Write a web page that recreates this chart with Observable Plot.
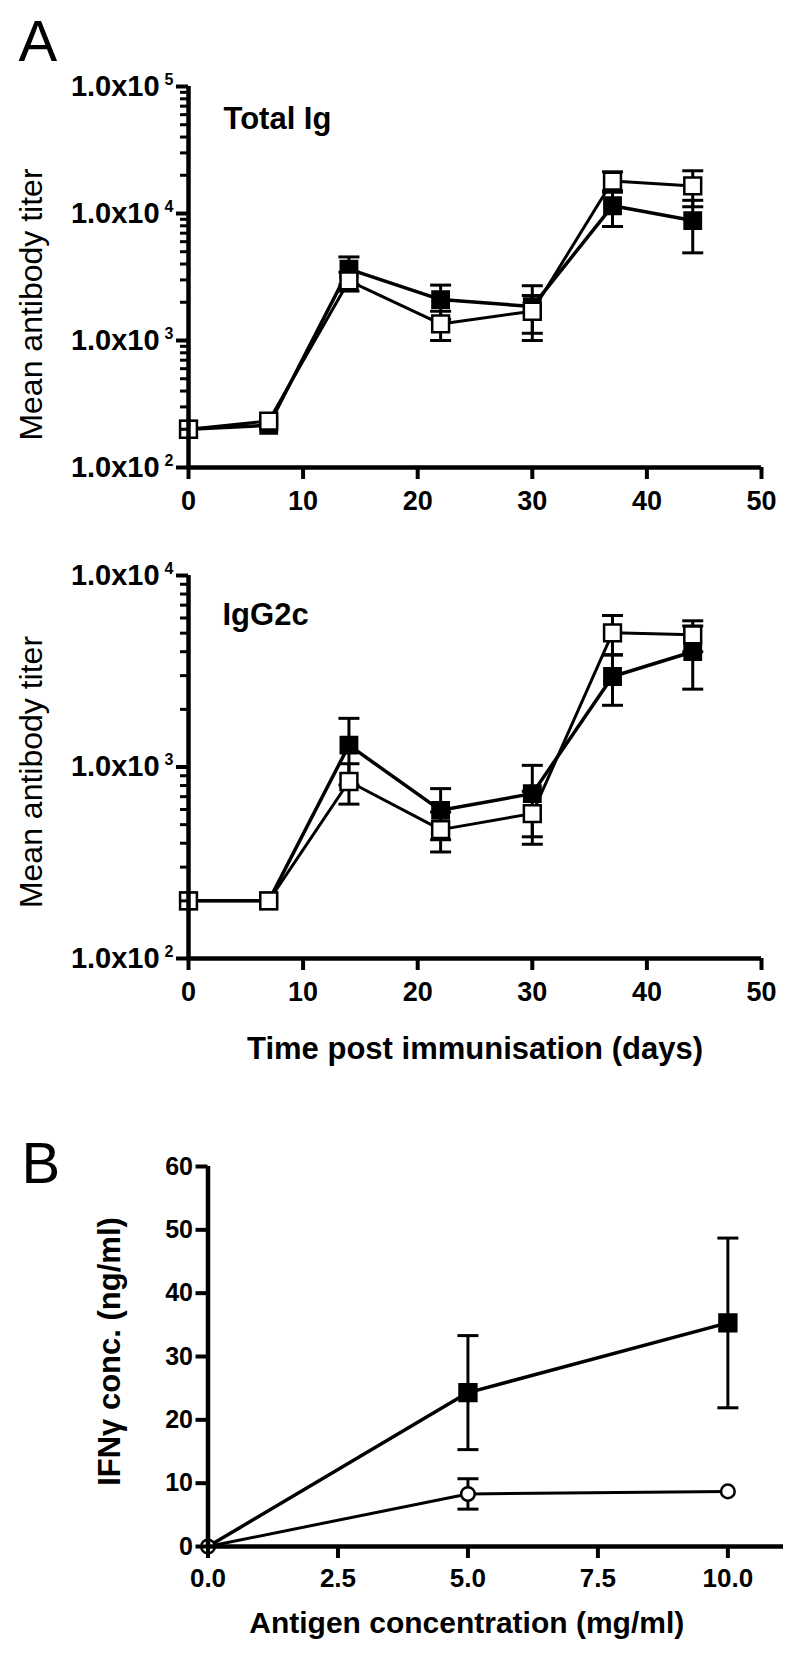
<!DOCTYPE html>
<html><head><meta charset="utf-8">
<script src="https://cdn.jsdelivr.net/npm/d3@7"></script>
<script src="https://cdn.jsdelivr.net/npm/@observablehq/plot@0.6"></script>
<style>
html,body{margin:0;padding:0;background:#fff;}
#root{position:relative;width:800px;height:1660px;font-family:"Liberation Sans",Arial,Helvetica,sans-serif;}
#root svg{position:absolute;left:0;overflow:visible;}
</style></head><body><div id="root"></div>
<script>
// ---- data ----
const days = [0, 7, 14, 22, 30, 37, 44];
const totalFilled    = [200, 215, 3650, 2100, 1850, 11500, 8800];
const totalFilledErr = [0, 0, 900, 630, 850, 3600, 3900];
const totalOpen      = [200, 232, 2950, 1350, 1700, 18000, 16500];
const totalOpenErr   = [0, 0, 500, 350, 560, 3300, 5200];
const g2cFilled      = [200, 200, 1300, 594, 726, 2970, 4000];
const g2cFilledErr   = [0, 0, 495, 177, 294, 870, 1450];
const g2cOpen        = [200, 200, 840, 471, 571, 5020, 4900];
const g2cOpenErr     = [0, 0, 200, 111, 176, 1160, 900];
const antigen        = [0, 5, 10];
const ifnFilled      = [0, 24.3, 35.3];
const ifnFilledErr   = [0, 9, 13.4];
const ifnOpen        = [0, 8.3, 8.7];
const ifnOpenErr     = [0, 2.4, 0];
const dayTicks = [0, 10, 20, 30, 40, 50];
const totalTicks = [1e2, 1e3, 1e4, 1e5];
const g2cTicks = [1e2, 1e3, 1e4];
const antigenTicks = [0, 2.5, 5, 7.5, 10];
const ifnTicks = [0, 10, 20, 30, 40, 50, 60];

const FONT = '"Liberation Sans", Arial, Helvetica, sans-serif';
const root = document.getElementById("root");

function rows(xs, ys, es) { return xs.map((x, i) => ({x, y: ys[i], e: es[i]})); }
const capSymbol = {draw(ctx, size) { const w = Math.sqrt(size / Math.PI); ctx.moveTo(-w, 0); ctx.lineTo(w, 0); }};
function errMarks(data, sw = 3, capR = 10.5) {
  const d = data.filter(r => r.e > 0);
  return [
    Plot.ruleX(d, {x: "x", y1: r => r.y - r.e, y2: r => r.y + r.e, stroke: "black", strokeWidth: sw}),
    Plot.dot(d, {x: "x", y: r => r.y + r.e, symbol: capSymbol, r: capR, stroke: "black", fill: "none", strokeWidth: sw}),
    Plot.dot(d, {x: "x", y: r => r.y - r.e, symbol: capSymbol, r: capR, stroke: "black", fill: "none", strokeWidth: sw})
  ];
}
function minorTicks(major) {
  const out = [];
  for (let i = 0; i < major.length - 1; i++) for (let k = 2; k <= 9; k++) out.push(major[i] * k);
  return out;
}
function place(svg, top) {
  svg.style.top = top + "px";
  root.appendChild(svg);
  d3.select(svg).selectAll('g[aria-label="y-axis tick label"] text').each(function() {
    const parts = this.textContent.split("^");
    if (parts.length === 2) {
      this.textContent = parts[0];
      d3.select(this).append("tspan").attr("dx", 5).attr("dy", -11).attr("font-size", 16).text(parts[1]);
    }
  });
}

function timePanel({top, height, mt, mb, yTicks, filled, filledErr, open, openErr, label, labelDx, labelDy, titleDy, letter, xTitle}) {
  const F = rows(days, filled, filledErr), O = rows(days, open, openErr);
  const yDomain = [yTicks[0], yTicks[yTicks.length - 1]];
  const marks = [
    Plot.line(F, {x: "x", y: "y", stroke: "black", strokeWidth: 3.5}),
    Plot.line(O, {x: "x", y: "y", stroke: "black", strokeWidth: 3}),
    ...errMarks(F), ...errMarks(O),
    Plot.dot(F, {x: "x", y: "y", symbol: "square", r: 9.5, fill: "black", stroke: "black", strokeWidth: 2}),
    Plot.dot(O, {x: "x", y: "y", symbol: "square", r: 9.5, fill: "white", stroke: "black", strokeWidth: 2.5}),
    Plot.ruleX([0], {y1: yDomain[0], y2: yDomain[1], stroke: "black", strokeWidth: 4.5}),
    Plot.ruleY([yDomain[0]], {x1: 0, x2: 50, stroke: "black", strokeWidth: 4.5}),
    Plot.axisY(minorTicks(yTicks), {tickSize: 8, strokeWidth: 3, tickFormat: () => "", label: null}),
    Plot.axisY(yTicks, {tickSize: 12, tickPadding: 3, strokeWidth: 4, fontSize: 29, fontWeight: "bold", label: null,
      tickFormat: d => "1.0x10^" + Math.round(Math.log10(d))}),
    Plot.axisX(dayTicks, {tickSize: 12, tickPadding: 11, strokeWidth: 4, fontSize: 27, fontWeight: "bold", label: null}),
    Plot.text([label], {text: d => d, frameAnchor: "top-left", dx: labelDx, dy: labelDy, textAnchor: "start", lineAnchor: "bottom", fontSize: 31, fontWeight: "bold"}),
    Plot.text(["Mean antibody titer"], {text: d => d, frameAnchor: "left", dx: -156.5, dy: titleDy, rotate: -90, textAnchor: "middle", lineAnchor: "middle", fontSize: 32, fontWeight: "normal"})
  ];
  if (letter) marks.push(Plot.text([letter], {text: d => d, frameAnchor: "top-left", dx: -170, dy: -26, textAnchor: "start", lineAnchor: "bottom", fontSize: 58, fontWeight: "normal"}));
  if (xTitle) marks.push(Plot.text([xTitle], {text: d => d, frameAnchor: "bottom", dx: 0, dy: 100, textAnchor: "middle", lineAnchor: "bottom", fontSize: 31, fontWeight: "bold"}));
  const svg = Plot.plot({
    width: 800, height, marginTop: mt, marginBottom: mb, marginLeft: 188, marginRight: 39,
    style: {fontFamily: FONT, color: "black", background: "white", overflow: "visible"},
    x: {domain: [0, 50], label: null},
    y: {type: "log", domain: yDomain, label: null},
    marks
  });
  place(svg, top);
}

timePanel({top: 0, height: 530, mt: 86, mb: 63, yTicks: totalTicks,
  filled: totalFilled, filledErr: totalFilledErr, open: totalOpen, openErr: totalOpenErr,
  label: "Total Ig", labelDx: 35, labelDy: 42, titleDy: 27.5, letter: "A"});
timePanel({top: 530, height: 560, mt: 45, mb: 132, yTicks: g2cTicks,
  filled: g2cFilled, filledErr: g2cFilledErr, open: g2cOpen, openErr: g2cOpenErr,
  label: "IgG2c", labelDx: 34, labelDy: 49, titleDy: 5, xTitle: "Time post immunisation (days)"});

// ---- panel B ----
(function() {
  const F = rows(antigen, ifnFilled, ifnFilledErr), O = rows(antigen, ifnOpen, ifnOpenErr);
  const svg = Plot.plot({
    width: 800, height: 570, marginTop: 76, marginBottom: 114, marginLeft: 207.5, marginRight: 17,
    style: {fontFamily: FONT, color: "black", background: "white", overflow: "visible"},
    x: {domain: [0, 11.07], label: null},
    y: {domain: [0, 60], label: null},
    marks: [
      Plot.line(F, {x: "x", y: "y", stroke: "black", strokeWidth: 3.5}),
      Plot.line(O, {x: "x", y: "y", stroke: "black", strokeWidth: 3}),
      ...errMarks(F), ...errMarks(O),
      Plot.dot(F.filter(r => r.x > 0), {x: "x", y: "y", symbol: "square", r: 9.8, fill: "black", stroke: "black", strokeWidth: 2}),
      Plot.dot(O, {x: "x", y: "y", symbol: "circle", r: 6.8, fill: "white", stroke: "black", strokeWidth: 2.5}),
      Plot.ruleX([0], {y1: 0, y2: 60, stroke: "black", strokeWidth: 4.5}),
      Plot.ruleY([0], {x1: 0, x2: 11.07, stroke: "black", strokeWidth: 4.5}),
      Plot.axisY(ifnTicks, {tickSize: 12, tickPadding: 3, strokeWidth: 4, fontSize: 25, fontWeight: "bold", label: null}),
      Plot.axisX(antigenTicks, {tickSize: 12, tickPadding: 10, strokeWidth: 4, fontSize: 26, fontWeight: "bold", label: null, tickFormat: d3.format(".1f")}),
      Plot.text(["B"], {text: d => d, frameAnchor: "top-left", dx: -186.5, dy: 16, textAnchor: "start", lineAnchor: "bottom", fontSize: 58, fontWeight: "normal"}),
      Plot.text(["IFNγ conc. (ng/ml)"], {text: d => d, frameAnchor: "left", dx: -97.5, dy: -5, rotate: -90, textAnchor: "middle", lineAnchor: "middle", fontSize: 31, fontWeight: "bold"}),
      Plot.text(["Antigen concentration (mg/ml)"], {text: d => d, frameAnchor: "bottom", dx: -29, dy: 86, textAnchor: "middle", lineAnchor: "bottom", fontSize: 30, fontWeight: "bold"})
    ]
  });
  place(svg, 1090);
})();
</script>
</body></html>
